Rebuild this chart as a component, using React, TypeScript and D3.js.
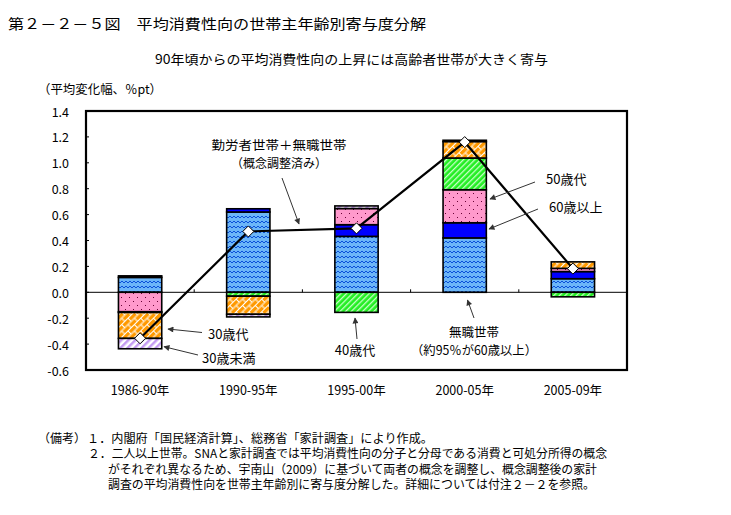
import React from "react";
import * as d3 from "d3";

const categories = ["1986-90年", "1990-95年", "1995-00年", "2000-05年", "2005-09年"];
const seriesKeys = ["無職世帯", "60歳以上", "50歳代", "40歳代", "30歳代", "30歳未満"];
const mushoku = [0.115, 0.62, 0.432, 0.42, 0.105];
const age60 = [0.012, 0.025, 0.09, 0.117, 0.055];
const age50 = [-0.15, 0, 0.125, 0.255, 0.025];
const age40 = [-0.006, -0.03, -0.155, 0.245, -0.035];
const age30 = [-0.2, -0.14, 0, 0.127, 0.05];
const under30 = [-0.08, -0.02, 0.02, 0.01, 0];
const totals = [-0.355, 0.47, 0.494, 1.16, 0.183];
const yTicks = [1.4, 1.2, 1.0, 0.8, 0.6, 0.4, 0.2, 0.0, -0.2, -0.4, -0.6];

const FONT = "'Noto Sans CJK JP', sans-serif";
const W = 731, H = 515;
const L = 86, R = 627, T = 111, B = 370;

const fills: Record<string, string> = {
  "無職世帯": "url(#pWave)",
  "60歳以上": "#0000FF",
  "50歳代": "url(#pDots)",
  "40歳代": "url(#pGreen)",
  "30歳代": "url(#pBrick)",
  "30歳未満": "url(#pLav)",
};

export default function App() {
  const rows = categories.map((c, i) => ({
    cat: c,
    "無職世帯": mushoku[i],
    "60歳以上": age60[i],
    "50歳代": age50[i],
    "40歳代": age40[i],
    "30歳代": age30[i],
    "30歳未満": under30[i],
  }));
  const stack = d3.stack<any>().keys(seriesKeys).offset(d3.stackOffsetDiverging);
  const stacked = stack(rows);

  const x = d3.scaleBand<string>().domain(categories).range([L, R]).paddingInner(0.6).paddingOuter(0.3);
  const y = d3.scaleLinear().domain([-0.6, 1.4]).range([B, T]);
  const step = (R - L) / categories.length;

  const line = d3
    .line<number>()
    .x((_, i) => (x(categories[i]) as number) + x.bandwidth() / 2)
    .y((d) => y(d));

  const fmt = d3.format(".1f");

  const txt = (s: string, xx: number, yy: number, anchor: string = "start", size = 13, extra: any = {}) => (
    <text x={xx} y={yy} textAnchor={anchor as any} dominantBaseline="central" fontSize={size} fontFamily={FONT} fill="#000" {...extra}>
      {s}
    </text>
  );

  const arrow = (x1: number, y1: number, x2: number, y2: number, key: string) => (
    <line key={key} x1={x1} y1={y1} x2={x2} y2={y2} stroke="#333" strokeWidth={1} markerEnd="url(#arrowHead)" />
  );

  return (
    <svg width={W} height={H} style={{ position: "absolute", left: 0, top: 0, background: "#fff" }}>
      <defs>
        <pattern id="pWave" patternUnits="userSpaceOnUse" width={8} height={5}>
          <rect width={8} height={5} fill="#6CB6F8" />
          <path d="M0 3 L2 1 L4 3 L6 1 L8 3" fill="none" stroke="#0A50D8" strokeWidth={1} />
        </pattern>
        <pattern id="pDots" patternUnits="userSpaceOnUse" width={8} height={8}>
          <rect width={8} height={8} fill="#FF99CC" />
          <rect x={1} y={1} width={1} height={1} fill="#660033" />
          <rect x={5} y={5} width={1} height={1} fill="#660033" />
        </pattern>
        <pattern id="pGreen" patternUnits="userSpaceOnUse" width={4} height={4} patternTransform="rotate(45)">
          <rect width={4} height={4} fill="#22EE22" />
          <rect width={1.3} height={4} fill="#C8FFC8" />
        </pattern>
        <pattern id="pLav" patternUnits="userSpaceOnUse" width={5} height={5} patternTransform="rotate(45)">
          <rect width={5} height={5} fill="#FFFFFF" />
          <rect width={2.5} height={5} fill="#C49BF2" />
        </pattern>
        <pattern id="pBrick" patternUnits="userSpaceOnUse" width={9} height={9} patternTransform="rotate(-45)">
          <rect width={9} height={9} fill="#FF9900" />
          <path d="M0 0.5H9 M0 5H9 M0.5 0.5V5 M5 5V9" fill="none" stroke="#FFFFFF" strokeWidth={1} />
        </pattern>
        <marker id="arrowHead" viewBox="0 0 10 10" refX={9} refY={5} markerWidth={8} markerHeight={6} orient="auto" markerUnits="userSpaceOnUse">
          <path d="M0 0 L10 5 L0 10 z" fill="#333" />
        </marker>
      </defs>

      {/* Titles */}
      {txt("第２－２－５図　平均消費性向の世帯主年齢別寄与度分解", 8, 23, "start", 14, { textLength: 418, lengthAdjust: "spacingAndGlyphs" })}
      {txt("90年頃からの平均消費性向の上昇には高齢者世帯が大きく寄与", 155, 58, "start", 13, { textLength: 393, lengthAdjust: "spacingAndGlyphs" })}
      {txt("（平均変化幅、％pt）", 38, 88, "start", 12.5, { textLength: 124, lengthAdjust: "spacingAndGlyphs" })}

      {/* Bars */}
      {stacked.map((s) => (
        <g key={s.key}>
          {s.map((d, i) => {
            const y0 = y(d[0]);
            const y1 = y(d[1]);
            const h = Math.abs(y0 - y1);
            if (h < 0.01) return null;
            return (
              <rect
                key={i}
                x={x(categories[i])}
                y={Math.min(y0, y1)}
                width={x.bandwidth()}
                height={h}
                fill={fills[s.key]}
                stroke="#000"
                strokeWidth={1.6}
              />
            );
          })}
        </g>
      ))}

      {/* zero line */}
      <line x1={L} x2={R} y1={y(0)} y2={y(0)} stroke="#000" strokeWidth={1} />
      {categories.slice(1).map((c, i) => (
        <line key={c} x1={L + step * (i + 1)} x2={L + step * (i + 1)} y1={y(0) - 3} y2={y(0)} stroke="#000" strokeWidth={1} />
      ))}

      {/* frame */}
      <rect x={L} y={T} width={R - L} height={B - T} fill="none" stroke="#000" strokeWidth={2.2} />

      {/* y ticks */}
      {yTicks.map((t) => (
        <g key={t}>
          <line x1={L} x2={L + 3} y1={y(t)} y2={y(t)} stroke="#000" strokeWidth={1} />
          {txt(t < 0 ? "-" + fmt(-t) : fmt(t), 69, y(t), "end", 12.5)}
        </g>
      ))}

      {/* x labels */}
      {categories.map((c) => txt(c, (x(c) as number) + x.bandwidth() / 2, 389, "middle", 12.5, { key: c }))}

      {/* total line */}
      <path d={line(totals) as string} fill="none" stroke="#000" strokeWidth={2.2} />
      {totals.map((v, i) => {
        const cx = (x(categories[i]) as number) + x.bandwidth() / 2;
        const cy = y(v);
        return <path key={i} d={`M${cx} ${cy - 5.5} L${cx + 5.5} ${cy} L${cx} ${cy + 5.5} L${cx - 5.5} ${cy} Z`} fill="#fff" stroke="#000" strokeWidth={1} />;
      })}

      {/* annotations */}
      {txt("勤労者世帯＋無職世帯", 279, 144.5, "middle", 12.5, { textLength: 135, lengthAdjust: "spacingAndGlyphs" })}
      {txt("（概念調整済み）", 279, 162, "middle", 12.5, { textLength: 96, lengthAdjust: "spacingAndGlyphs" })}
      {arrow(282, 178, 299, 224, "a1")}
      {txt("50歳代", 546, 178, "start", 13)}
      {arrow(535, 182, 490, 199, "a2")}
      {txt("60歳以上", 549, 206, "start", 13)}
      {arrow(538, 209, 489, 229, "a3")}
      {txt("無職世帯", 474, 331.5, "middle", 12.5)}
      {txt("（約95％が60歳以上）", 474, 349, "middle", 12.5, { textLength: 126, lengthAdjust: "spacingAndGlyphs" })}
      {arrow(474, 318, 467.5, 300, "a4")}
      {txt("40歳代", 355, 349, "middle", 13)}
      {arrow(357, 339, 355, 318, "a5")}
      {txt("30歳代", 208, 333, "start", 13)}
      {arrow(202, 332.5, 168, 329, "a6")}
      {txt("30歳未満", 202, 357, "start", 13)}
      {arrow(198, 355, 164, 346.7, "a7")}

      {/* notes */}
      {txt("（備考）", 38, 437, "start", 12, { textLength: 48, lengthAdjust: "spacingAndGlyphs" })}
      {txt("１．内閣府「国民経済計算」、総務省「家計調査」により作成。", 87, 437, "start", 12, { textLength: 346, lengthAdjust: "spacingAndGlyphs" })}
      {txt("２．二人以上世帯。SNAと家計調査では平均消費性向の分子と分母である消費と可処分所得の概念", 88, 452.5, "start", 12, { textLength: 519, lengthAdjust: "spacingAndGlyphs" })}
      {txt("がそれぞれ異なるため、宇南山（2009）に基づいて両者の概念を調整し、概念調整後の家計", 108, 468, "start", 12, { textLength: 489, lengthAdjust: "spacingAndGlyphs" })}
      {txt("調査の平均消費性向を世帯主年齢別に寄与度分解した。詳細については付注２－２を参照。", 108, 483.5, "start", 12, { textLength: 487, lengthAdjust: "spacingAndGlyphs" })}
    </svg>
  );
}
